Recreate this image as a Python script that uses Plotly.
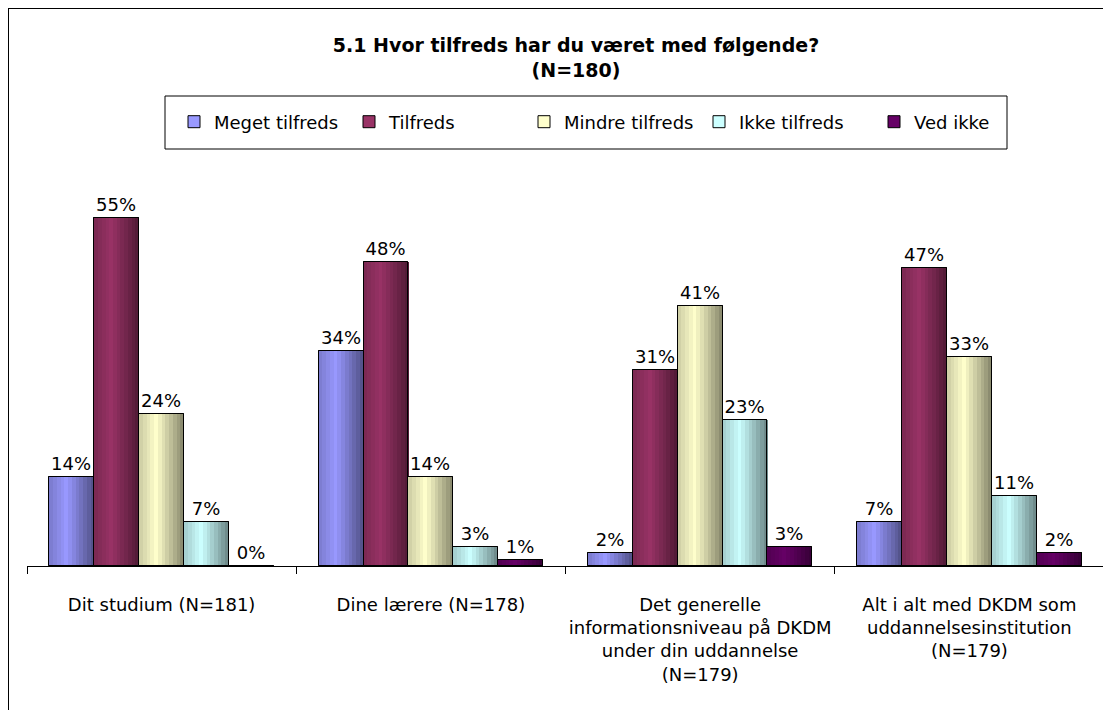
import plotly.graph_objects as go

# dati
categorie = [
    "Dit studium (N=181)",
    "Dine lærere (N=178)",
    "Det generelle<br>informationsniveau på DKDM<br>under din uddannelse<br>(N=179)",
    "Alt i alt med DKDM som<br>uddannelsesinstitution<br>(N=179)",
]
serie = ["Meget tilfreds", "Tilfreds", "Mindre tilfreds", "Ikke tilfreds", "Ved ikke"]
meget_tilfreds = [14, 34, 2, 7]
tilfreds = [55, 48, 31, 47]
mindre_tilfreds = [24, 14, 41, 33]
ikke_tilfreds = [7, 3, 23, 11]
ved_ikke = [0, 1, 3, 2]
valori = [meget_tilfreds, tilfreds, mindre_tilfreds, ikke_tilfreds, ved_ikke]

# colori in stile Excel 2003
COLORI = ["#9999FF", "#993366", "#FFFFCC", "#CCFFFF", "#660066"]

FONT = "DejaVu Sans"
W = 1 / 6          # larghezza di una barra (unità di categoria)
N_STRISCE = 12     # strisce per simulare il gradiente orizzontale

# la pagina html aggiunge 8px di margine: la figura è 8px più piccola
FIG_W, FIG_H = 1103, 702


def hex_rgb(h):
    h = h.lstrip("#")
    return tuple(int(h[i:i + 2], 16) for i in (0, 2, 4))


def sfumatura(colore, t):
    # più scuro ai bordi, pieno verso il centro-sinistra
    if t < 0.38:
        f = 0.8 + 0.2 * (t / 0.38)
    else:
        f = 1 - 0.48 * ((t - 0.38) / 0.62)
    r, g, b = hex_rgb(colore)
    return f"rgb({int(r * f)},{int(g * f)},{int(b * f)})"


fig = go.Figure()

for i, (nome, vals, col) in enumerate(zip(serie, valori, COLORI)):
    off = -2.5 * W + i * W
    # traccia per la legenda (sotto, coperta dalle strisce)
    fig.add_trace(go.Bar(
        x=categorie, y=vals, name=nome, width=W, offset=off,
        marker=dict(color=col, line=dict(color="black", width=1)),
        showlegend=True,
    ))
    # strisce del gradiente
    for k in range(N_STRISCE):
        t = (k + 0.5) / N_STRISCE
        fig.add_trace(go.Bar(
            x=categorie, y=vals, width=W / N_STRISCE * 1.02,
            offset=off + k * W / N_STRISCE,
            marker=dict(color=sfumatura(col, t), line=dict(width=0)),
            showlegend=False, hoverinfo="skip",
        ))
    # contorno ed etichette
    fig.add_trace(go.Bar(
        x=categorie, y=vals, width=W, offset=off,
        marker=dict(color="rgba(0,0,0,0)", line=dict(color="black", width=1)),
        text=[f"{v}%" for v in vals], textposition="outside",
        textfont=dict(family=FONT, size=18, color="black"),
        cliponaxis=False, showlegend=False, hoverinfo="skip",
    ))

# coordinate di pixel (della figura) -> paper
L, R, T, B = 19, 7, 178, 144
PW, PH = FIG_W - L - R, FIG_H - T - B


def px_x(x):
    return (x - L) / PW


def px_y(y):
    return (FIG_H - B - y) / PH


fig.update_layout(
    width=FIG_W, height=FIG_H,
    barmode="overlay",
    plot_bgcolor="white", paper_bgcolor="white",
    margin=dict(l=L, r=R, t=T, b=B, autoexpand=False),
    font=dict(family=FONT, size=18, color="black"),
    title=dict(
        text="<b>5.1 Hvor tilfreds har du været med følgende?<br>(N=180)</b>",
        x=568 / FIG_W, xanchor="center", y=1 - 44 / FIG_H, yanchor="top",
        font=dict(family=FONT, size=19, color="black"),
    ),
    legend=dict(
        orientation="h", x=px_x(166), xanchor="left",
        y=px_y(114), yanchor="middle",
        font=dict(family=FONT, size=18, color="black"),
        bgcolor="rgba(0,0,0,0)", borderwidth=0,
        entrywidth=130, entrywidthmode="pixels",
    ),
    xaxis=dict(
        showline=True, linecolor="black", linewidth=1,
        ticks="outside", tickson="boundaries", ticklen=7, tickcolor="black",
        showgrid=False, tickfont=dict(family=FONT, size=18, color="black"),
        tickangle=0, ticklabelstandoff=22,
    ),
    yaxis=dict(range=[0, 60], visible=False),
    shapes=[
        # riquadro della legenda
        dict(type="rect", xref="paper", yref="paper",
             x0=px_x(157), x1=px_x(999), y0=px_y(141), y1=px_y(88),
             line=dict(color="black", width=1)),
        # cornice del grafico (lati superiore e sinistro)
        dict(type="line", xref="paper", yref="paper",
             x0=px_x(0), x1=px_x(FIG_W + 10), y0=px_y(0.5), y1=px_y(0.5),
             line=dict(color="black", width=1)),
        dict(type="line", xref="paper", yref="paper",
             x0=px_x(0.5), x1=px_x(0.5), y0=px_y(0), y1=px_y(FIG_H + 10),
             line=dict(color="black", width=1)),
    ],
    bargap=0, hovermode=False,
)

fig.write_html("out.html")
